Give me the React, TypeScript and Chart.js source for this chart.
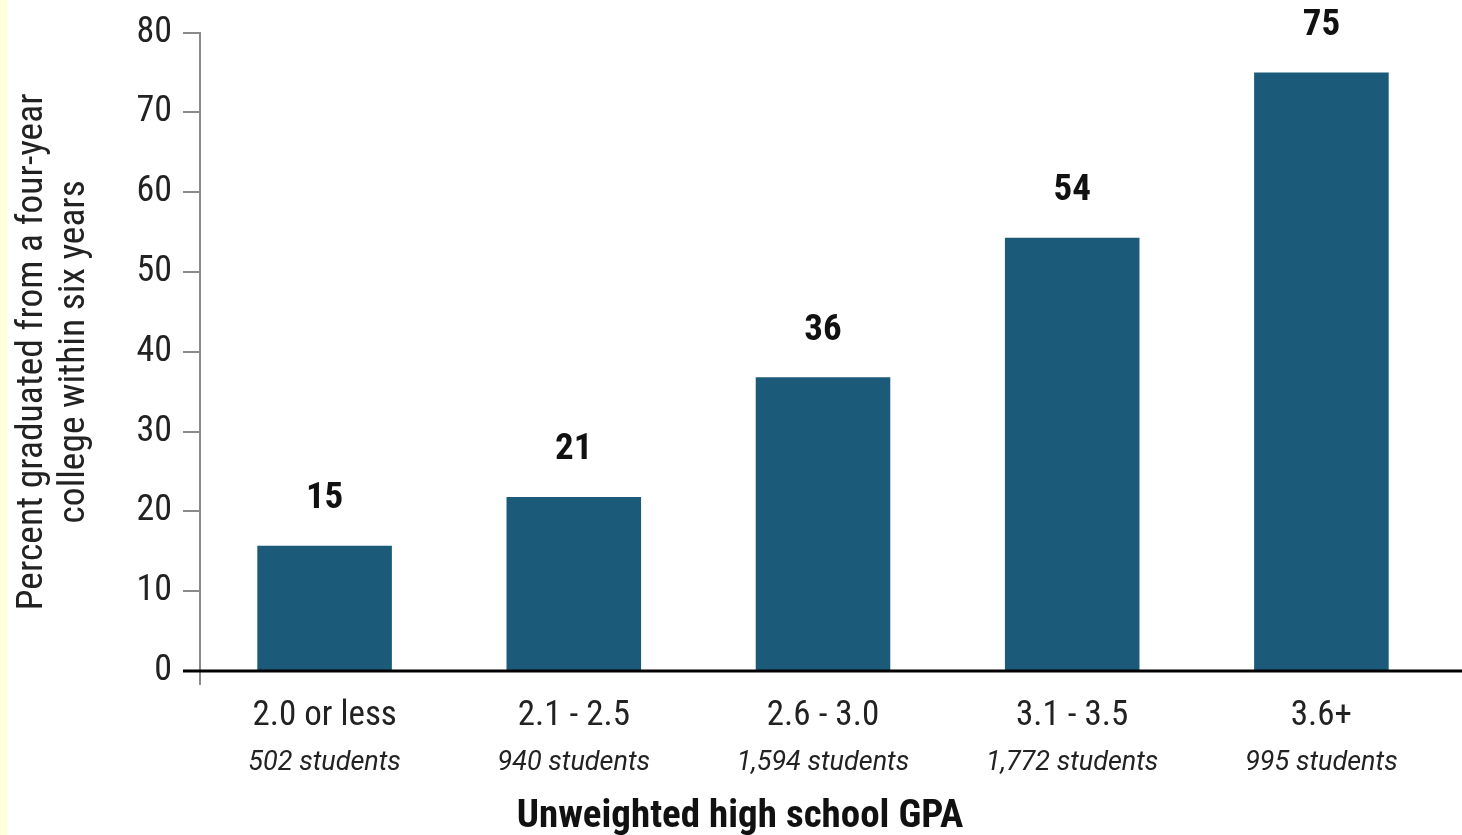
import React, { useEffect, useRef } from "react";
import { Chart, registerables } from "chart.js";

Chart.register(...registerables);

const categories = ["2.0 or less", "2.1 - 2.5", "2.6 - 3.0", "3.1 - 3.5", "3.6+"];
const studentCounts = ["502 students", "940 students", "1,594 students", "1,772 students", "995 students"];
const values = [15.7, 21.8, 36.8, 54.3, 75.0];
const valueLabels = ["15", "21", "36", "54", "75"];
const yTitle = ["Percent graduated from a four-year", "college within six years"];
const xTitle = "Unweighted high school GPA";

const FONT = "Roboto, 'Liberation Sans', sans-serif";
const STRETCH = "semi-condensed";
const BAR = "#1c5a7a";

export default function App() {
  const ref = useRef<HTMLCanvasElement | null>(null);

  useEffect(() => {
    document.body.style.margin = "0";
    const canvas = ref.current;
    if (!canvas) return;

    const bgPlugin = {
      id: "bg",
      beforeDraw(chart: any) {
        const { ctx, width, height } = chart;
        ctx.save();
        ctx.fillStyle = "#ffffff";
        ctx.fillRect(0, 0, width, height);
        ctx.fillStyle = "#ffffdc";
        ctx.fillRect(0, 0, 7, height);
        ctx.restore();
      },
    };

    const decoPlugin = {
      id: "deco",
      afterDatasetsDraw(chart: any) {
        const { ctx } = chart;
        const y = chart.scales.y.getPixelForValue(0);
        ctx.save();
        ctx.strokeStyle = "#000000";
        ctx.lineWidth = 3;
        ctx.beginPath();
        ctx.moveTo(183, y);
        ctx.lineTo(chart.width, y);
        ctx.stroke();
        const meta = chart.getDatasetMeta(0);
        ctx.fillStyle = "#111111";
        ctx.font = `bold ${STRETCH} 37px ${FONT}`;
        ctx.textAlign = "center";
        ctx.textBaseline = "middle";
        meta.data.forEach((bar: any, i: number) => {
          ctx.fillText(valueLabels[i], bar.x, bar.y - 47);
        });
        // x-axis title
        ctx.font = `bold ${STRETCH} 39px ${FONT}`;
        ctx.textBaseline = "alphabetic";
        ctx.fillText(xTitle, 740, 827);
        ctx.restore();
      },
    };

    const chart = new Chart(canvas, {
      type: "bar",
      data: {
        labels: categories,
        datasets: [
          {
            data: values,
            backgroundColor: BAR,
            borderWidth: 0,
            barPercentage: 0.54,
            categoryPercentage: 1,
          },
        ],
      },
      options: {
        animation: false,
        responsive: false,
        devicePixelRatio: 1,
        layout: { padding: { top: 27, right: 16, left: 0, bottom: 0 } },
        plugins: {
          legend: { display: false },
          tooltip: { enabled: false },
        },
        scales: {
          y: {
            min: 0,
            max: 80,
            ticks: {
              stepSize: 10,
              padding: 11,
              color: "#222222",
              font: { family: FONT, size: 36, weight: STRETCH },
            },
            grid: {
              drawOnChartArea: false,
              drawTicks: true,
              tickLength: 17,
              color: "#8a8a8a",
              lineWidth: 2,
            },
            border: { display: true, color: "#8a8a8a", width: 2 },
            title: {
              display: true,
              text: yTitle,
              color: "#222222",
              font: { family: FONT, size: 37.5, weight: STRETCH, lineHeight: "42px" },
              padding: { top: 12, bottom: 0 },
            },
            afterFit(scale: any) {
              scale.width = 200;
            },
          },
          x: {
            type: "category",
            position: "bottom",
            weight: 0,
            offset: true,
            grid: {
              offset: true,
              drawOnChartArea: false,
              drawTicks: true,
              tickLength: 14,
              lineWidth: 2,
              color: (c: any) => (c.index === 0 ? "#8a8a8a" : "rgba(0,0,0,0)"),
            },
            border: { display: false },
            ticks: {
              padding: 10,
              color: "#222222",
              font: { family: FONT, size: 35, weight: STRETCH },
              maxRotation: 0,
              autoSkip: false,
            },
            afterFit(scale: any) {
              scale.height = 63;
            },
          },
          x2: {
            type: "category",
            position: "bottom",
            weight: 1,
            labels: studentCounts,
            offset: true,
            grid: { display: false },
            border: { display: false },
            ticks: {
              padding: 5,
              color: "#222222",
              font: { family: FONT, size: 27, style: "italic" },
              maxRotation: 0,
              autoSkip: false,
            },
            afterFit(scale: any) {
              scale.height = 101;
            },
          },
        },
      } as any,
      plugins: [bgPlugin, decoPlugin],
    });

    return () => chart.destroy();
  }, []);

  return (
    <div style={{ position: "absolute", left: 0, top: 0, width: 1462, height: 835 }}>
      <canvas ref={ref} width={1462} height={835} style={{ width: 1462, height: 835 }} />
    </div>
  );
}
